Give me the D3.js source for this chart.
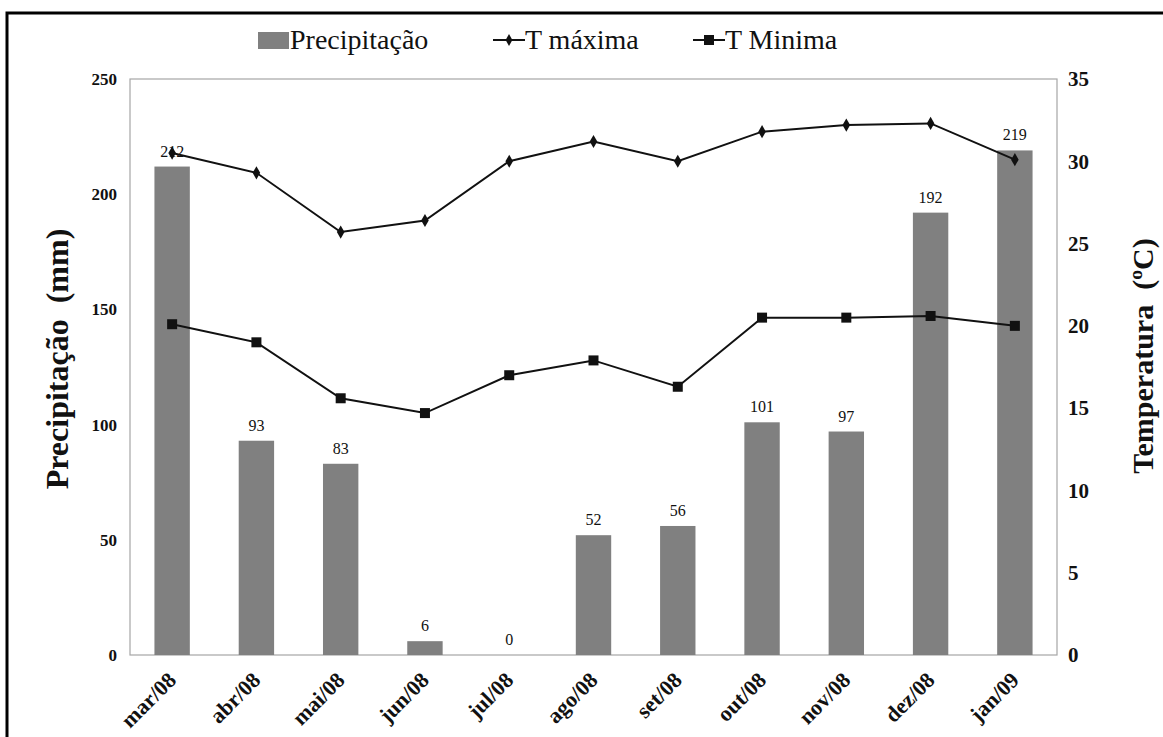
<!DOCTYPE html>
<html>
<head>
<meta charset="utf-8">
<script src="https://cdn.jsdelivr.net/npm/d3@7"></script>
<style>
  body { margin: 0; background: #fff; }
  svg { display: block; }
  svg text { font-family: "Liberation Serif", "Times New Roman", Times, serif; }
</style>
</head>
<body>
<svg id="chart" width="1163" height="737"></svg>
<script>
const months = ["mar/08","abr/08","mai/08","jun/08","jul/08","ago/08","set/08","out/08","nov/08","dez/08","jan/09"];
const precip = [212, 93, 83, 6, 0, 52, 56, 101, 97, 192, 219];
const tMax = [30.5, 29.3, 25.7, 26.4, 30.0, 31.2, 30.0, 31.8, 32.2, 32.3, 30.1];
const tMin = [20.1, 19.0, 15.6, 14.7, 17.0, 17.9, 16.3, 20.5, 20.5, 20.6, 20.0];
const leftTicks = [0, 50, 100, 150, 200, 250];
const rightTicks = [0, 5, 10, 15, 20, 25, 30, 35];
const legendItems = ["Precipitação", "T máxima", "T Minima"];

const FONT = "Liberation Serif, Times New Roman, Times, serif";
const svg = d3.select("#chart");
const m = {left: 130, right: 1057, top: 79, bottom: 655};

const x = d3.scaleBand().domain(months).range([m.left, m.right]).paddingInner(0.58).paddingOuter(0.29);
const yL = d3.scaleLinear().domain([0, 250]).range([m.bottom, m.top]);
const yR = d3.scaleLinear().domain([0, 35]).range([m.bottom, m.top]);

// outer frame
svg.append("rect").attr("x", 7).attr("y", 13).attr("width", 1200).attr("height", 800)
  .attr("fill", "none").attr("stroke", "#000").attr("stroke-width", 3);

// plot border
svg.append("rect").attr("x", m.left).attr("y", m.top)
  .attr("width", m.right - m.left).attr("height", m.bottom - m.top)
  .attr("fill", "none").attr("stroke", "#a6a6a6").attr("stroke-width", 1.2);

// bars
svg.append("g").selectAll("rect").data(precip).join("rect")
  .attr("x", (d, i) => x(months[i]))
  .attr("y", d => yL(d))
  .attr("width", x.bandwidth())
  .attr("height", d => yL(0) - yL(d))
  .attr("fill", "#808080");

// bar labels
svg.append("g").selectAll("text").data(precip).join("text")
  .attr("x", (d, i) => x(months[i]) + x.bandwidth() / 2)
  .attr("y", d => yL(d) - 10)
  .attr("text-anchor", "middle")
  .attr("font-family", FONT)
  .attr("font-size", 16)
  .attr("fill", "#111")
  .text(d => d);

// left axis
const axL = d3.axisLeft(yL).tickValues(leftTicks).tickSize(0).tickPadding(13);
const gL = svg.append("g").attr("transform", `translate(${m.left},0)`).call(axL);
gL.attr("font-family", FONT);
gL.select(".domain").remove();
gL.selectAll("text").attr("font-size", 17).attr("font-weight", "bold")
  .attr("font-family", FONT).attr("fill", "#111");

// right axis
const axR = d3.axisRight(yR).tickValues(rightTicks).tickSize(0).tickPadding(11);
const gR = svg.append("g").attr("transform", `translate(${m.right},0)`).call(axR);
gR.attr("font-family", FONT);
gR.select(".domain").remove();
gR.selectAll("text").attr("font-size", 21).attr("font-weight", "bold")
  .attr("font-family", FONT).attr("fill", "#111");

// x axis labels
const axX = d3.axisBottom(x).tickSize(0).tickPadding(0);
const gX = svg.append("g").attr("transform", `translate(0,${m.bottom})`).call(axX);
gX.attr("font-family", FONT);
gX.select(".domain").remove();
gX.selectAll("text")
  .attr("font-size", 22).attr("font-weight", "bold").attr("font-family", FONT)
  .attr("fill", "#111")
  .attr("text-anchor", "end")
  .attr("dy", "0.35em")
  .attr("transform", "translate(0,21) rotate(-45)");

// lines
const cx = i => x(months[i]) + x.bandwidth() / 2;
const line = d3.line().x((d, i) => cx(i)).y(d => yR(d));

svg.append("path").datum(tMax).attr("d", line)
  .attr("fill", "none").attr("stroke", "#111").attr("stroke-width", 2);
svg.append("path").datum(tMin).attr("d", line)
  .attr("fill", "none").attr("stroke", "#111").attr("stroke-width", 2);

svg.append("g").selectAll("path").data(tMax).join("path")
  .attr("d", d3.symbol().type(d3.symbolDiamond).size(50))
  .attr("transform", (d, i) => `translate(${cx(i)},${yR(d)})`)
  .attr("fill", "#111");
svg.append("g").selectAll("rect").data(tMin).join("rect")
  .attr("x", (d, i) => cx(i) - 5).attr("y", d => yR(d) - 5)
  .attr("width", 10).attr("height", 10).attr("fill", "#111");

// axis titles
svg.append("text")
  .attr("transform", `translate(68,359) rotate(-90)`)
  .attr("text-anchor", "middle").attr("font-size", 32).attr("font-weight", "bold")
  .attr("font-family", FONT)
  .attr("fill", "#111").attr("xml:space", "preserve")
  .text("Precipitação  (mm)");
svg.append("text")
  .attr("transform", `translate(1153,356) rotate(-90)`)
  .attr("text-anchor", "middle").attr("font-size", 30).attr("font-weight", "bold")
  .attr("font-family", FONT)
  .attr("fill", "#111").attr("xml:space", "preserve")
  .text("Temperatura  (ºC)");

// legend
const lg = svg.append("g").attr("font-size", 28).attr("font-family", FONT).attr("fill", "#111");
const ly = 40;
lg.append("rect").attr("x", 258).attr("y", ly - 8).attr("width", 31).attr("height", 17).attr("fill", "#808080");
lg.append("text").attr("x", 290).attr("y", ly + 9).text(legendItems[0]);

lg.append("line").attr("x1", 493).attr("x2", 525).attr("y1", ly).attr("y2", ly).attr("stroke", "#111").attr("stroke-width", 2);
lg.append("path").attr("d", d3.symbol().type(d3.symbolDiamond).size(40)).attr("transform", `translate(509,${ly})`).attr("fill", "#111");
lg.append("text").attr("x", 525).attr("y", ly + 9).text(legendItems[1]);

lg.append("line").attr("x1", 693).attr("x2", 725).attr("y1", ly).attr("y2", ly).attr("stroke", "#111").attr("stroke-width", 2);
lg.append("rect").attr("x", 704).attr("y", ly - 5).attr("width", 10).attr("height", 10).attr("fill", "#111");
lg.append("text").attr("x", 725).attr("y", ly + 9).text(legendItems[2]);
</script>
</body>
</html>
